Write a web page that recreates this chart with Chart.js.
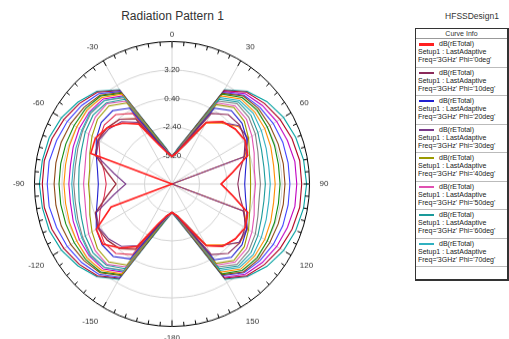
<!DOCTYPE html>
<html lang="en">
<head>
    <meta charset="UTF-8">
    <title>Radiation Pattern 1</title>
    <style>
        body {
            margin: 0;
            background: #fff;
            font-family: Arial, "Liberation Sans", sans-serif;
        }

        .page {
            position: relative;
            width: 509px;
            height: 339px;
            overflow: hidden;
        }

        .title {
            position: absolute;
            left: 0;
            top: 9px;
            width: 345px;
            text-align: center;
            font-size: 12px;
            color: #333;
        }

        /* the source picture is a little taller than wide, so stretch the plot slightly */
        .chart-box {
            position: absolute;
            left: 0;
            top: 30px;
            width: 345px;
            height: 310px;
            transform: scale(1, 1.036);
            transform-origin: 50% 50%;
        }

        .design {
            position: absolute;
            left: 425px;
            top: 11px;
            width: 94px;
            text-align: center;
            font-size: 8.5px;
            color: #333;
        }

        .legend {
            position: absolute;
            left: 415px;
            top: 28px;
            width: 91px;
            border: 1px solid #333;
            border-right-width: 2px;
            border-bottom-width: 2px;
            background: #fff;
        }

        .legend .head {
            height: 9px;
            line-height: 9px;
            font-size: 7px;
            text-align: center;
            color: #333;
            border-bottom: 1px solid #999;
        }

        .legend .item {
            height: 26.5px;
            padding: 1px 0 0 2px;
            border-bottom: 1px solid #bbb;
            font-size: 7px;
            line-height: 8.2px;
            color: #222;
            white-space: nowrap;
            overflow: hidden;
        }

        .legend .swatch {
            display: inline-block;
            width: 15px;
            height: 0;
            border-top: 2px solid;
            vertical-align: middle;
            margin: 0 5px 0 1px;
        }

        .legend .empty {
            height: 12px;
        }
    </style>
    <script src="https://cdn.jsdelivr.net/npm/chart.js"></script>
</head>
<body>
<div class="page">
    <div class="title">Radiation Pattern 1</div>
    <div class="chart-box"><canvas id="pattern"></canvas></div>
    <div class="design">HFSSDesign1</div>
    <div class="legend" id="legend"></div>
</div>
<script>
    // theta in degrees, clockwise from the top (0 .. 180, then -170 .. -10)
    const angleLabels = ['0', '10', '20', '30', '40', '50', '60', '70', '80', '90',
        '100', '110', '120', '130', '140', '150', '160', '170', '-180',
        '-170', '-160', '-150', '-140', '-130', '-120', '-110', '-100', '-90',
        '-80', '-70', '-60', '-50', '-40', '-30', '-20', '-10'];

    const phiValues = [0, 10, 20, 30, 40, 50, 60, 70, 80, 90, 100, 110, 120, 130, 140, 150, 160, 170];

    // dB(rETotal) per phi cut, same order as angleLabels
    const phi0 = [-5.3, -4.8, -3.6, -1.0, 0.0, 0.4, 0.6, 0.2, -1.8, -3.0, -1.8, 0.2, 0.6, 0.4, 0.0, -1.0, -3.6, -4.8,
        -5.2, -4.8, -3.8, -0.9, 0.2, 1.2, 0.9, -1.4, -8, -8, -8, 0.8, 1.0, 0.6, -0.2, -1.2, -3.8, -4.8];
    const phi10 = [-5.3, -4.7, -3.5, 0.0, 0.9, 1.0, 0.6, -0.2, -1.0, -1.3, -1.0, -0.2, 0.6, 1.0, 0.9, 0.0, -3.5, -4.7,
        -5.2, -4.8, -3.6, -0.6, 0.3, 0.6, 0.7, 0.3, -1.3, -2.3, -1.3, 0.3, 0.7, 0.6, 0.3, -0.6, -3.6, -4.8];
    const phi20 = [-5.3, -4.7, -3.4, 0.6, 1.4, 1.3, 0.8, 0.1, -0.4, -0.6, -0.4, 0.1, 0.8, 1.3, 1.4, 0.6, -3.4, -4.7,
        -5.2, -4.7, -3.4, 0.5, 1.3, 1.3, 0.9, 0.2, -0.3, -0.5, -0.3, 0.2, 0.9, 1.4, 1.4, 0.6, -3.4, -4.7];
    const phi30 = [-5.3, -4.8, -3.8, -1.0, -0.1, 0.9, 0.9, -0.2, -8, -8, -8, -0.3, 0.8, 0.9, -0.1, -1.0, -3.8, -4.8,
        -5.2, -4.8, -3.6, -1.0, 0.0, 0.4, 0.6, 0.2, -2.0, -3.3, -2.0, 0.2, 0.6, 0.4, 0.0, -1.0, -3.6, -4.8];
    const phi40 = [-5.3, -4.7, -3.3, 1.0, 1.8, 1.6, 1.0, 0.4, 0.1, 0.0, 0.1, 0.4, 1.0, 1.6, 1.8, 1.0, -3.3, -4.7,
        -5.2, -4.7, -3.2, 1.2, 2.0, 1.9, 1.4, 0.9, 0.5, 0.5, 0.5, 0.9, 1.4, 1.9, 2.0, 1.2, -3.2, -4.7];
    const phi50 = [-5.3, -4.7, -3.2, 1.2, 2.0, 1.9, 1.4, 0.9, 0.5, 0.5, 0.5, 0.9, 1.4, 1.9, 2.0, 1.2, -3.2, -4.7,
        -5.2, -4.6, -3.2, 1.4, 2.3, 2.2, 1.8, 1.3, 1.0, 1.0, 1.0, 1.3, 1.8, 2.2, 2.3, 1.4, -3.2, -4.6];
    const phi60 = [-5.3, -4.6, -3.1, 1.6, 2.5, 2.5, 2.1, 1.7, 1.5, 1.5, 1.5, 1.7, 2.1, 2.5, 2.5, 1.6, -3.1, -4.6,
        -5.2, -4.6, -3.1, 1.6, 2.4, 2.5, 2.2, 1.8, 1.6, 1.5, 1.6, 1.8, 2.2, 2.5, 2.4, 1.6, -3.1, -4.6];
    const phi70 = [-5.3, -4.6, -3.1, 1.8, 2.7, 2.8, 2.5, 2.2, 2.0, 2.0, 2.0, 2.2, 2.5, 2.8, 2.7, 1.8, -3.1, -4.6,
        -5.2, -4.6, -3.1, 1.9, 2.7, 2.9, 2.6, 2.4, 2.2, 2.2, 2.2, 2.4, 2.6, 2.9, 2.7, 1.9, -3.1, -4.6];
    const phi80 = [-5.3, -4.6, -3.0, 2.0, 2.9, 3.0, 2.9, 2.7, 2.5, 2.5, 2.5, 2.7, 2.9, 3.0, 2.9, 2.0, -3.0, -4.6,
        -5.2, -4.6, -3.0, 2.2, 3.1, 3.3, 3.2, 3.1, 3.0, 3.0, 3.0, 3.1, 3.2, 3.3, 3.1, 2.2, -3.0, -4.6];
    const phi90 = [-5.3, -4.6, -3.0, 2.2, 3.1, 3.3, 3.2, 3.1, 3.0, 3.0, 3.0, 3.1, 3.2, 3.3, 3.1, 2.2, -3.0, -4.6,
        -5.2, -4.5, -2.9, 2.3, 3.3, 3.5, 3.5, 3.5, 3.5, 3.5, 3.5, 3.5, 3.5, 3.5, 3.3, 2.3, -2.9, -4.5];
    const phi100 = [-5.3, -4.5, -2.9, 2.3, 3.3, 3.5, 3.5, 3.5, 3.5, 3.5, 3.5, 3.5, 3.5, 3.5, 3.3, 2.3, -2.9, -4.5,
        -5.2, -4.5, -2.9, 2.4, 3.4, 3.7, 3.9, 4.0, 4.0, 4.0, 4.0, 4.0, 3.9, 3.7, 3.4, 2.4, -2.9, -4.5];
    const phi110 = [-5.3, -4.5, -2.9, 2.4, 3.4, 3.7, 3.9, 4.0, 4.0, 4.0, 4.0, 4.0, 3.9, 3.7, 3.4, 2.4, -2.9, -4.5,
        -5.2, -4.5, -2.8, 2.6, 3.6, 4.0, 4.3, 4.5, 4.7, 4.7, 4.7, 4.5, 4.3, 4.0, 3.6, 2.5, -2.8, -4.5];
    const phi120 = [-5.3, -4.5, -2.8, 2.6, 3.8, 4.3, 4.7, 5.0, 5.2, 5.2, 5.2, 5.0, 4.7, 4.3, 3.8, 2.7, -2.8, -4.5,
        -5.2, -4.5, -2.8, 2.7, 3.8, 4.3, 4.7, 5.0, 5.2, 5.2, 5.2, 5.0, 4.7, 4.3, 3.8, 2.6, -2.8, -4.5];
    const phi130 = [-5.3, -4.4, -2.7, 2.7, 3.9, 4.6, 5.1, 5.4, 5.6, 5.7, 5.6, 5.4, 5.1, 4.6, 3.9, 2.8, -2.7, -4.4,
        -5.2, -4.4, -2.7, 2.8, 3.9, 4.5, 5.0, 5.3, 5.4, 5.5, 5.4, 5.3, 5.0, 4.5, 3.9, 2.7, -2.7, -4.4];
    const phi140 = [-5.3, -4.5, -2.8, 2.5, 3.6, 4.0, 4.3, 4.5, 4.7, 4.7, 4.7, 4.5, 4.3, 4.0, 3.6, 2.6, -2.8, -4.5,
        -5.2, -4.6, -3.0, 2.0, 2.9, 3.0, 2.9, 2.7, 2.5, 2.5, 2.5, 2.7, 2.9, 3.0, 2.9, 2.0, -3.0, -4.6];
    const phi150 = [-5.3, -4.6, -3.2, 1.4, 2.3, 2.2, 1.8, 1.3, 1.0, 1.0, 1.0, 1.3, 1.8, 2.2, 2.3, 1.4, -3.2, -4.6,
        -5.2, -4.6, -3.1, 1.8, 2.7, 2.8, 2.5, 2.2, 2.0, 2.0, 2.0, 2.2, 2.5, 2.8, 2.7, 1.8, -3.1, -4.6];
    const phi160 = [-5.3, -4.8, -3.8, -1.1, -0.2, 0.8, 1.0, -0.1, -8, -8, -8, -0.2, 0.9, 1.0, -0.2, -1.1, -3.8, -4.8,
        -5.2, -4.8, -3.6, -0.6, 0.3, 0.6, 0.7, 0.3, -1.3, -2.3, -1.3, 0.3, 0.7, 0.6, 0.3, -0.6, -3.6, -4.8];
    const phi170 = [-5.3, -4.8, -3.6, -1.0, 0.0, 0.4, 0.6, 0.2, -1.8, -3.0, -1.8, 0.2, 0.6, 0.4, 0.0, -1.0, -3.6, -4.8,
        -5.2, -4.7, -3.5, 0.0, 0.9, 1.0, 0.6, -0.2, -1.0, -1.3, -1.0, -0.2, 0.6, 1.0, 0.9, 0.0, -3.5, -4.7];

    const seriesValues = [phi0, phi10, phi20, phi30, phi40, phi50, phi60, phi70, phi80,
        phi90, phi100, phi110, phi120, phi130, phi140, phi150, phi160, phi170];

    const radialMin = -8.0;
    const radialMax = 6.0;
    const radialStep = 2.8;

    const seriesColors = ['#ff2020', '#8b2a5a', '#2020d0', '#7a3a8a', '#9a9a00', '#e050b0',
        '#1a9a9a', '#30b0c0', '#ff8c00', '#108a10', '#8b4513', '#4040ff',
        '#b00020', '#00a0a0', '#c000c0', '#808080', '#ff7a00', '#e03050'];

    // legend (only the first eight cuts fit in the Curve Info box)
    const legend = document.getElementById('legend');
    let html = '<div class="head">Curve Info</div>';
    for (let i = 0; i < 8; i++) {
        html += '<div class="item">' +
            '<span class="swatch" style="border-color:' + seriesColors[i] + (i === 0 ? ';border-top-width:3px' : '') + '"></span>dB(rETotal)<br>' +
            'Setup1 : LastAdaptive<br>' +
            'Freq=\'3GHz\' Phi=\'' + phiValues[i] + 'deg\'</div>';
    }
    html += '<div class="empty"></div>';
    legend.innerHTML = html;

    // small tick marks on the outer ring, every 5 degrees
    const ringTicks = {
        id: 'ringTicks',
        afterDraw(chart) {
            const scale = chart.scales.r;
            const c = chart.ctx;
            const r = scale.drawingArea;
            c.save();
            c.strokeStyle = '#000';
            c.lineWidth = 1;
            for (let i = 0; i < 72; i++) {
                const len = i % 6 === 0 ? 6 : 4;
                const a = scale.getPointPosition(i / 2, r);
                const b = scale.getPointPosition(i / 2, r - len);
                c.beginPath();
                c.moveTo(a.x, a.y);
                c.lineTo(b.x, b.y);
                c.stroke();
            }
            c.restore();
        }
    };

    const ctx = document.getElementById('pattern').getContext('2d');
    new Chart(ctx, {
        type: 'radar',
        data: {
            labels: angleLabels,
            datasets: seriesValues.map((vals, i) => ({
                label: 'Phi=' + phiValues[i] + 'deg',
                data: vals,
                borderColor: seriesColors[i],
                borderWidth: i === 0 ? 1.6 : 1.1,
                pointRadius: 0,
                fill: false,
                tension: 0
            }))
        },
        options: {
            responsive: true,
            maintainAspectRatio: false,
            animation: false,
            layout: {
                padding: {top: 0, bottom: 0, left: 2, right: 2}
            },
            plugins: {
                legend: {display: false},
                tooltip: {enabled: false},
                title: {display: false}
            },
            scales: {
                r: {
                    min: radialMin,
                    max: radialMax,
                    ticks: {
                        stepSize: radialStep,
                        showLabelBackdrop: false,
                        color: '#333',
                        font: {size: 8, family: 'Arial'},
                        callback: v => (v <= radialMin + 0.1 || v >= radialMax - 0.1) ? '' : v.toFixed(2)
                    },
                    grid: {
                        circular: true,
                        color: c => (c.tick && c.tick.value >= radialMax - 0.1) ? '#000' : '#d4d4d4',
                        lineWidth: 1
                    },
                    angleLines: {
                        color: c => c.index % 3 === 0 ? '#d4d4d4' : 'rgba(0,0,0,0)',
                        lineWidth: 1
                    },
                    pointLabels: {
                        color: '#333',
                        font: {size: 8, family: 'Arial'},
                        padding: c => c.index === 0 ? -4 : (c.index === 18 ? 0 : 4),
                        callback: (label, index) => index % 3 === 0 ? label : ''
                    }
                }
            }
        },
        plugins: [ringTicks]
    });
</script>
</body>
</html>
